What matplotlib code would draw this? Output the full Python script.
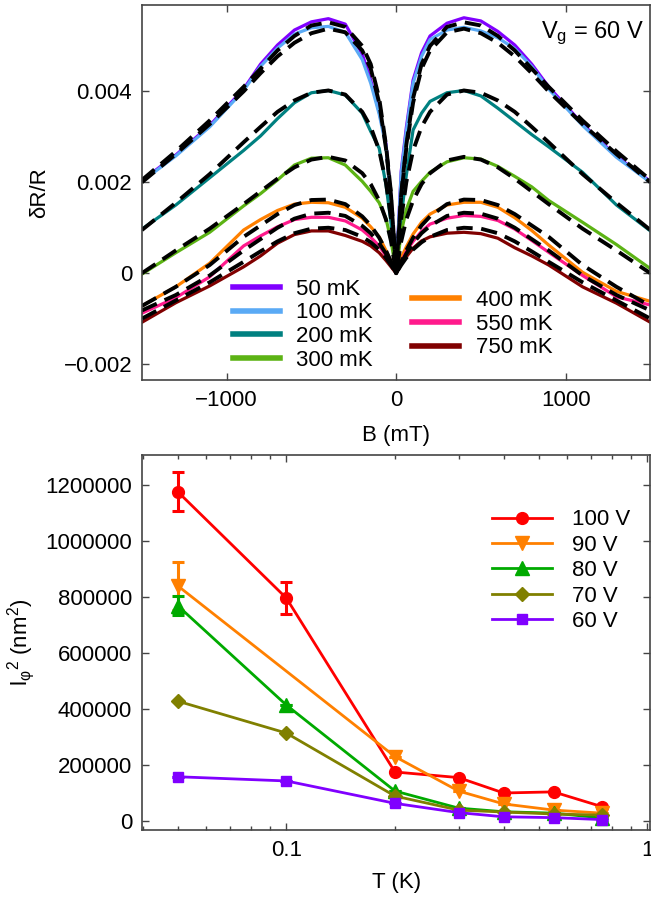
import matplotlib
matplotlib.use("Agg")
import matplotlib.pyplot as plt
from matplotlib.lines import Line2D
from matplotlib.ticker import FixedLocator, FixedFormatter, NullFormatter, LogLocator

plt.rcParams['font.family'] = ['Liberation Sans', 'DejaVu Sans']
plt.rcParams['mathtext.fontset'] = 'custom'
plt.rcParams['mathtext.rm'] = 'Liberation Sans'
plt.rcParams['mathtext.it'] = 'Liberation Sans'

# ---- top panel: magnetoresistance at Vg = 60 V ----
B = [-1500, -1300, -1100, -900, -800, -700, -600, -500, -400, -300, -200, -150, -100, -60, -30, 0,
     30, 60, 100, 150, 200, 300, 400, 500, 600, 700, 800, 900, 1100, 1300, 1500]

dr_50 = [0.00204, 0.00260, 0.00325, 0.00405, 0.00460, 0.00502, 0.00535, 0.00553, 0.00560, 0.00548,
         0.00482, 0.00425, 0.00355, 0.00285, 0.00165, 0.0,
         0.00225, 0.00320, 0.00425, 0.00485, 0.00522, 0.00550, 0.00562, 0.00555, 0.00532, 0.00502,
         0.00460, 0.00410, 0.00328, 0.00257, 0.00202]
dr_100 = [0.00202, 0.00258, 0.00322, 0.00402, 0.00455, 0.00495, 0.00526, 0.00540, 0.00543, 0.00530,
          0.00470, 0.00418, 0.00350, 0.00280, 0.00160, 0.0,
          0.00220, 0.00312, 0.00418, 0.00477, 0.00514, 0.00535, 0.00541, 0.00533, 0.00518, 0.00494,
          0.00455, 0.00405, 0.00325, 0.00255, 0.00200]
dr_200 = [0.00097, 0.00150, 0.00210, 0.00270, 0.00302, 0.00340, 0.00375, 0.00397, 0.00402, 0.00392,
          0.00352, 0.00312, 0.00275, 0.00195, 0.00110, 0.0,
          0.00125, 0.00215, 0.00315, 0.00352, 0.00378, 0.00397, 0.00402, 0.00390, 0.00363, 0.00334,
          0.00305, 0.00278, 0.00222, 0.00150, 0.00093]
dr_300 = [-0.00002, 0.00045, 0.00090, 0.00148, 0.00175, 0.00205, 0.00238, 0.00253, 0.00254, 0.00238,
          0.00202, 0.00180, 0.00155, 0.00120, 0.00072, 0.0,
          0.00090, 0.00140, 0.00180, 0.00202, 0.00222, 0.00245, 0.00254, 0.00251, 0.00235, 0.00213,
          0.00190, 0.00160, 0.00112, 0.00063, 0.00010]
dr_400 = [-0.00072, -0.00030, 0.00022, 0.00095, 0.00118, 0.00138, 0.00152, 0.00156, 0.00155, 0.00145,
          0.00121, 0.00102, 0.00080, 0.00050, 0.00026, 0.0,
          0.00034, 0.00058, 0.00086, 0.00112, 0.00130, 0.00150, 0.00156, 0.00156, 0.00145, 0.00122,
          0.00094, 0.00062, 0.00002, -0.00040, -0.00062]
dr_550 = [-0.00088, -0.00054, -0.00008, 0.00060, 0.00082, 0.00102, 0.00118, 0.00123, 0.00123, 0.00115,
          0.00095, 0.00079, 0.00060, 0.00038, 0.00020, 0.0,
          0.00025, 0.00048, 0.00070, 0.00092, 0.00108, 0.00121, 0.00127, 0.00125, 0.00116, 0.00097,
          0.00072, 0.00046, -0.00005, -0.00052, -0.00070]
dr_750 = [-0.00108, -0.00065, -0.00028, 0.00014, 0.00038, 0.00066, 0.00085, 0.00093, 0.00093, 0.00083,
          0.00070, 0.00060, 0.00045, 0.00028, 0.00014, 0.0,
          0.00020, 0.00036, 0.00055, 0.00071, 0.00080, 0.00088, 0.00090, 0.00087, 0.00077, 0.00056,
          0.00038, 0.00018, -0.00030, -0.00066, -0.00108]

# fitted curves (dashed), same B grid
fit_50 = [0.00205, 0.00268, 0.00336, 0.00410, 0.00450, 0.00490, 0.00522, 0.00545, 0.00552, 0.00542,
          0.00500, 0.00460, 0.00385, 0.00282, 0.00175, 0.0,
          0.00175, 0.00282, 0.00385, 0.00460, 0.00500, 0.00542, 0.00552, 0.00545, 0.00522, 0.00490,
          0.00450, 0.00410, 0.00336, 0.00268, 0.00205]
fit_100 = [0.00200, 0.00262, 0.00328, 0.00400, 0.00440, 0.00477, 0.00507, 0.00528, 0.00538, 0.00530,
           0.00490, 0.00450, 0.00375, 0.00275, 0.00170, 0.0,
           0.00170, 0.00275, 0.00375, 0.00450, 0.00490, 0.00530, 0.00538, 0.00528, 0.00507, 0.00477,
           0.00440, 0.00400, 0.00328, 0.00262, 0.00200]
fit_200 = [0.00095, 0.00155, 0.00218, 0.00288, 0.00322, 0.00355, 0.00380, 0.00397, 0.00402, 0.00393,
           0.00355, 0.00322, 0.00270, 0.00200, 0.00120, 0.0,
           0.00120, 0.00200, 0.00270, 0.00322, 0.00355, 0.00393, 0.00402, 0.00397, 0.00380, 0.00355,
           0.00322, 0.00288, 0.00218, 0.00155, 0.00095]
fit_300 = [0.00000, 0.00050, 0.00098, 0.00152, 0.00180, 0.00208, 0.00233, 0.00250, 0.00256, 0.00248,
           0.00220, 0.00196, 0.00160, 0.00118, 0.00070, 0.0,
           0.00070, 0.00118, 0.00160, 0.00196, 0.00220, 0.00248, 0.00256, 0.00250, 0.00233, 0.00208,
           0.00180, 0.00152, 0.00098, 0.00050, 0.00000]
fit_400 = [-0.00072, -0.00030, 0.00018, 0.00080, 0.00105, 0.00130, 0.00150, 0.00161, 0.00162, 0.00152,
           0.00125, 0.00105, 0.00078, 0.00050, 0.00025, 0.0,
           0.00025, 0.00050, 0.00078, 0.00105, 0.00125, 0.00152, 0.00162, 0.00161, 0.00150, 0.00130,
           0.00105, 0.00080, 0.00018, -0.00030, -0.00072]
fit_550 = [-0.00082, -0.00048, -0.00005, 0.00050, 0.00075, 0.00100, 0.00120, 0.00131, 0.00133, 0.00126,
           0.00104, 0.00088, 0.00066, 0.00043, 0.00022, 0.0,
           0.00022, 0.00043, 0.00066, 0.00088, 0.00104, 0.00126, 0.00133, 0.00131, 0.00120, 0.00100,
           0.00075, 0.00050, -0.00005, -0.00048, -0.00082]
fit_750 = [-0.00100, -0.00060, -0.00020, 0.00025, 0.00048, 0.00070, 0.00088, 0.00098, 0.00100, 0.00095,
           0.00080, 0.00068, 0.00052, 0.00034, 0.00018, 0.0,
           0.00018, 0.00034, 0.00052, 0.00068, 0.00080, 0.00095, 0.00100, 0.00098, 0.00088, 0.00070,
           0.00048, 0.00025, -0.00020, -0.00060, -0.00100]

temp_labels = ['50 mK', '100 mK', '200 mK', '300 mK', '400 mK', '550 mK', '750 mK']
temp_colors = ['#8000ff', '#5aaaf5', '#008080', '#5cb314', '#ff8000', '#ff1a8c', '#800000']
curves = [dr_50, dr_100, dr_200, dr_300, dr_400, dr_550, dr_750]
fits = [fit_50, fit_100, fit_200, fit_300, fit_400, fit_550, fit_750]

# ---- bottom panel: phase coherence length squared ----
T = [0.05, 0.1, 0.2, 0.3, 0.4, 0.55, 0.75]
T_90 = [0.05, 0.2, 0.3, 0.4, 0.55, 0.75]
l_100 = [1176000, 796000, 175000, 155000, 100000, 104000, 51000]
e_100 = [70000, 56000, 0, 0, 0, 0, 0]
l_90 = [840000, 230000, 107000, 61000, 39000, 28000]
e_90 = [85000, 0, 0, 0, 0, 0]
l_80 = [769000, 414000, 107000, 46000, 33000, 28000, 11000]
e_80 = [35000, 0, 0, 0, 0, 0, 0]
l_70 = [428000, 314000, 89000, 39000, 32000, 25000, 21000]
e_70 = [0, 0, 0, 0, 0, 0, 0]
l_60 = [158000, 143000, 63000, 30000, 15000, 12000, 5000]
e_60 = [0, 0, 0, 0, 0, 0, 0]

fig = plt.figure(figsize=(6.51, 8.99), dpi=100)
ax1 = fig.add_axes([0.218, 0.5773, 0.781, 0.4171])
ax2 = fig.add_axes([0.218, 0.0768, 0.781, 0.4171])

for y, c in zip(curves, temp_colors):
    ax1.plot(B, y, color=c, lw=2.3, solid_joinstyle='round')
for f in fits:
    ax1.plot(B, f, color='black', lw=2.8, dashes=(4.2, 2.2))

ax1.set_xlim(-1500, 1500)
ax1.set_ylim(-0.00235, 0.0059)
ax1.set_xticks([-1000, 0, 1000])
ax1.set_xticklabels(['\u22121000', '0', '1000'])
ax1.set_yticks([-0.002, 0, 0.002, 0.004])
ax1.set_yticklabels(['\u22120.002', '0', '0.002', '0.004'])
ax1.set_xlabel('B (mT)', fontsize=16, labelpad=10)
ax1.set_ylabel('\u03b4R/R', fontsize=16, labelpad=10)
ax1.text(0.988, 0.925, 'V$_\\mathrm{g}$ = 60 V', transform=ax1.transAxes,
         ha='right', va='center', fontsize=17)

h1 = [Line2D([], [], color=c, lw=4) for c in temp_colors[:4]]
h2 = [Line2D([], [], color=c, lw=4) for c in temp_colors[4:]]
leg1 = ax1.legend(h1, temp_labels[:4], loc='upper left', bbox_to_anchor=(0.179, 0.27),
                  frameon=False, fontsize=16, handlelength=2.1, handletextpad=0.75,
                  labelspacing=0.12, borderpad=0, borderaxespad=0)
ax1.add_artist(leg1)
ax1.legend(h2, temp_labels[4:], loc='upper left', bbox_to_anchor=(0.532, 0.24),
           frameon=False, fontsize=16, handlelength=2.1, handletextpad=0.75,
           labelspacing=0.12, borderpad=0, borderaxespad=0)

series = [
    (T, l_100, e_100, '#ff0000', 'o', 8.5, '100 V'),
    (T_90, l_90, e_90, '#ff8000', 'v', 9.5, '90 V'),
    (T, l_80, e_80, '#00aa00', '^', 9.5, '80 V'),
    (T, l_70, e_70, '#808000', 'D', 7.5, '70 V'),
    (T, l_60, e_60, '#8000ff', 's', 7.5, '60 V'),
]
handles = []
for tx, ly, ey, c, m, ms, lab in series:
    ax2.errorbar(tx, ly, yerr=ey, color=c, marker=m, ms=ms, lw=2, elinewidth=2.2,
                 capsize=4, capthick=2.2)
    handles.append(Line2D([], [], color=c, marker=m, ms=ms, lw=2))

ax2.set_xscale('log')
ax2.set_xlim(0.0398, 1.02)
ax2.set_ylim(-32000, 1307000)
ax2.xaxis.set_major_locator(FixedLocator([0.1, 1]))
ax2.xaxis.set_major_formatter(FixedFormatter(['0.1', '1']))
ax2.xaxis.set_minor_locator(LogLocator(base=10, subs=range(2, 10)))
ax2.xaxis.set_minor_formatter(NullFormatter())
ax2.set_yticks([0, 200000, 400000, 600000, 800000, 1000000, 1200000])
ax2.set_yticklabels(['0', '200000', '400000', '600000', '800000', '1000000', '1200000'])
ax2.set_xlabel('T (K)', fontsize=16, labelpad=8)
ax2.set_ylabel('l$_\u03c6$$^2$ (nm$^2$)', fontsize=16, labelpad=6)
ax2.legend(handles, [s[6] for s in series], loc='upper left', bbox_to_anchor=(0.688, 0.855),
           frameon=False, fontsize=16, handlelength=2.7, handletextpad=0.9,
           labelspacing=0.2, borderpad=0, borderaxespad=0)

for ax in (ax1, ax2):
    for s in ax.spines.values():
        s.set_color('#444444')
        s.set_linewidth(1.2)
    ax.tick_params(which='both', direction='in', top=True, right=True, labelsize=16,
                   color='#444444', width=1)
    ax.tick_params(which='major', length=5, pad=7)
    ax.tick_params(which='minor', length=3)

fig.savefig('out.png', dpi=100)
